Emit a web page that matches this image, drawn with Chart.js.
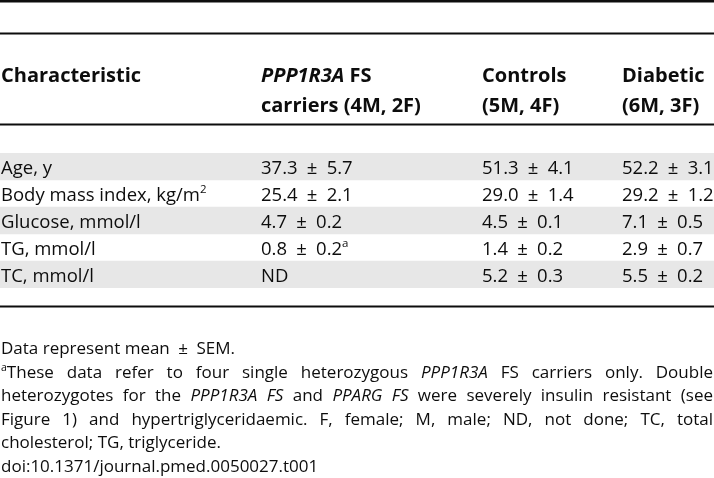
<!DOCTYPE html>
<html>
<head>
<meta charset="utf-8">
<script src="https://cdn.jsdelivr.net/npm/chart.js@4.4.1/dist/chart.umd.min.js"></script>
<style>
  html, body { margin: 0; padding: 0; background: #fff; }
  #wrap { width: 714px; height: 478px; position: relative; }
</style>
</head>
<body>
<div id="wrap"><canvas id="c"></canvas></div>
<script>
// table content; _x_ = italic, ^x^ = superscript
const rowLabels = ['Age, y', 'Body mass index, kg/m^2^', 'Glucose, mmol/l', 'TG, mmol/l', 'TC, mmol/l'];
const headTop = ['Characteristic', '_PPP1R3A_ FS', 'Controls', 'Diabetic'];
const headBottom = ['', 'carriers (4M, 2F)', '(5M, 4F)', '(6M, 3F)'];

const carriersMean = [37.3, 25.4, 4.7, 0.8, null];
const carriersSem = [5.7, 2.1, 0.2, 0.2, null];
const carriersNote = ['', '', '', 'a', ''];
const controlsMean = [51.3, 29.0, 4.5, 1.4, 5.2];
const controlsSem = [4.1, 1.4, 0.1, 0.2, 0.3];
const diabeticMean = [52.2, 29.2, 7.1, 2.9, 5.5];
const diabeticSem = [3.1, 1.2, 0.5, 0.7, 0.2];
const shadedRows = [1, 0, 1, 0, 1];

const PM = '\u2002±\u2002';
const footLines = [
  'Data represent mean' + PM + 'SEM.',
  '^a^These data refer to four single heterozygous _PPP1R3A_ FS carriers only. Double',
  'heterozygotes for the _PPP1R3A FS_ and _PPARG FS_ were severely insulin resistant (see',
  'Figure 1) and hypertriglyceridaemic. F, female; M, male; ND, not done; TC, total',
  'cholesterol; TG, triglyceride.',
  'doi:10.1371/journal.pmed.0050027.t001'
];
const footJustify = [false, true, true, true, false, false];

const FAMILY = '"Open Sans", sans-serif';
const HEAD_SIZE = 20;
const BODY_SIZE = 18.5;
const FOOT_SIZE = 17;
const INK = '#0d0d0d';
const colX = [1, 261, 482, 622];

function cell(mean, sem, note) {
  if (mean == null) return 'ND';
  return mean.toFixed(1) + PM + sem.toFixed(1) + (note ? '^' + note + '^' : '');
}

function parseRich(str, bold, size) {
  const segs = [];
  let italic = false, sup = false, buf = '';
  const flush = () => { if (buf) segs.push({ text: buf, italic, sup, bold, size }); buf = ''; };
  for (const ch of str) {
    if (ch === '_') { flush(); italic = !italic; }
    else if (ch === '^') { flush(); sup = !sup; }
    else buf += ch;
  }
  flush();
  return segs;
}

function segFont(s) {
  const sz = s.sup ? s.size * 0.62 : s.size;
  return (s.italic ? 'italic ' : '') + (s.bold ? 'bold ' : '') + sz + 'px ' + FAMILY;
}

function segWidth(ctx, segs) {
  let w = 0;
  segs.forEach(s => { ctx.font = segFont(s); w += ctx.measureText(s.text).width; });
  return w;
}

function drawSegs(ctx, segs, x, y) {
  segs.forEach(s => {
    ctx.font = segFont(s);
    ctx.fillText(s.text, x, s.sup ? y - s.size * 0.4 : y);
    x += ctx.measureText(s.text).width;
  });
  return x;
}

function drawJustified(ctx, str, x, y, width) {
  const words = [[]];
  parseRich(str, false, FOOT_SIZE).forEach(s => {
    s.text.split(' ').forEach((p, k) => {
      if (k > 0) words.push([]);
      if (p) words[words.length - 1].push(Object.assign({}, s, { text: p }));
    });
  });
  const list = words.filter(w => w.length);
  const total = list.reduce((a, w) => a + segWidth(ctx, w), 0);
  const gap = (width - total) / (list.length - 1);
  let cx = x;
  list.forEach(w => { cx = drawSegs(ctx, w, cx, y) + gap; });
}

const tablePlugin = {
  id: 'tableText',
  beforeDraw(chart) {
    const ctx = chart.ctx;
    ctx.save();
    ctx.fillStyle = '#fff';
    ctx.fillRect(0, 0, chart.width, chart.height);
    ctx.restore();
  },
  afterDatasetsDraw(chart) {
    const ctx = chart.ctx;
    const area = chart.chartArea;
    const y = chart.scales.y;
    const W = chart.width;
    ctx.save();
    ctx.fillStyle = INK;
    ctx.textBaseline = 'alphabetic';

    // rules
    ctx.fillRect(0, 0, W, 2.5);
    ctx.fillRect(0, area.top - 120.5, W, 2);
    ctx.fillRect(0, area.top - 29.5, W, 2);
    ctx.fillRect(0, area.bottom + 17.5, W, 2);

    // header
    headTop.forEach((t, k) => drawSegs(ctx, parseRich(t, true, HEAD_SIZE), colX[k], area.top - 71));
    headBottom.forEach((t, k) => drawSegs(ctx, parseRich(t, true, HEAD_SIZE), colX[k], area.top - 41));

    // body rows
    rowLabels.forEach((lab, i) => {
      const by = y.getPixelForValue(i) + 7;
      drawSegs(ctx, parseRich(lab, false, BODY_SIZE), colX[0], by);
      drawSegs(ctx, parseRich(cell(carriersMean[i], carriersSem[i], carriersNote[i]), false, BODY_SIZE), colX[1], by);
      drawSegs(ctx, parseRich(cell(controlsMean[i], controlsSem[i], ''), false, BODY_SIZE), colX[2], by);
      drawSegs(ctx, parseRich(cell(diabeticMean[i], diabeticSem[i], ''), false, BODY_SIZE), colX[3], by);
    });

    // footnotes
    footLines.forEach((line, k) => {
      const fy = area.bottom + 66 + k * 23.6;
      if (footJustify[k]) drawJustified(ctx, line, 1, fy, W - 2);
      else drawSegs(ctx, parseRich(line, false, FOOT_SIZE), 1, fy);
    });
    ctx.restore();
  }
};

new Chart(document.getElementById('c'), {
  type: 'bar',
  data: {
    labels: rowLabels,
    datasets: [{
      data: shadedRows.map(s => (s ? 1 : null)),
      backgroundColor: '#e7e7e7',
      borderWidth: 0,
      barPercentage: 1,
      categoryPercentage: 1
    }]
  },
  options: {
    indexAxis: 'y',
    responsive: true,
    maintainAspectRatio: false,
    animation: false,
    layout: { padding: { top: 153, bottom: 190, left: 0, right: 0 } },
    plugins: { legend: { display: false }, tooltip: { enabled: false } },
    scales: {
      x: { display: false, min: 0, max: 1 },
      y: { display: false }
    }
  },
  plugins: [tablePlugin]
});
</script>
</body>
</html>
